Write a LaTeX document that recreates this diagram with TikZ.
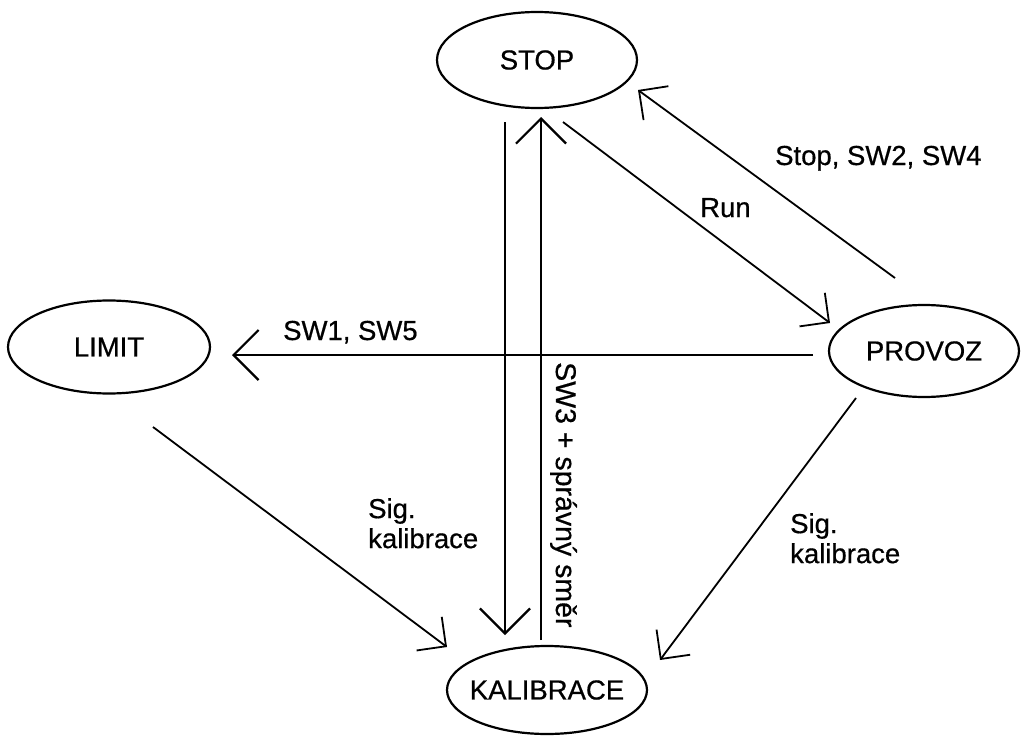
\documentclass[tikz,border=0pt]{standalone}
\usepackage{fontspec}
\setmainfont{Liberation Sans}[FakeBold=0.6]
\usetikzlibrary{shapes.geometric,arrows.meta,calc}
\newcommand\lblfont{\fontsize{27.5}{30}\selectfont}
\begin{document}
\begin{tikzpicture}[x=1pt,y=-1pt,
  state/.style n args={2}{ellipse,draw,line width=2.2pt,inner sep=0pt,
    minimum width=#1,minimum height=#2,font=\lblfont},
  lab/.style={inner sep=0pt,font=\lblfont},
  arr/.style={line width=2.2pt,-{Straight Barb[length=25pt,width=50pt]}},
  darr/.style={line width=1.8pt,-{Straight Barb[length=21pt,width=42pt]}}]
\useasboundingbox (0,0) rectangle (1021,736);
\fill[white] (0,0) rectangle (1021,736);
% states
\node[state={200pt}{96pt}] (stop) at (537,60) {\makebox[0pt]{STOP}};
\node[state={202pt}{93pt}] (limit) at (109,347) {\makebox[0pt]{LIMIT}};
\node[state={190pt}{92pt}] (provoz) at (924,351) {\makebox[0pt]{PROVOZ}};
\node[state={200pt}{88pt}] (kal) at (547,690) {\makebox[0pt]{KALIBRACE}};
% connectors
\draw[arr] ($(stop)+(-32,62)$) -- ($(kal)+(-42,-55)$);
\draw[arr] ($(kal)+(-6,-50)$) -- ($(stop)+(4,57)$);
\draw[darr] ($(stop)+(26,62)$) -- ($(provoz)+(-94,-28)$);
\draw[darr] ($(provoz)+(-29,-73)$) -- ($(stop)+(101,30)$);
\draw[arr] ($(provoz)+(-111,4)$) -- ($(limit)+(123,8)$);
\draw[darr] ($(limit)+(44,80)$) -- ($(kal)+(-100,-43)$);
\draw[darr] ($(provoz)+(-68,47)$) -- ($(kal)+(113,-30)$);
% labels
\node[lab,anchor=base west] (lstop) at (775,165) {Stop, SW2, SW4};
\node[lab,anchor=base west] (lrun) at (700,217) {Run};
\node[lab,anchor=base west] (lsw) at (283,340) {SW1, SW5};
\node[lab,anchor=north west,align=left] (lsigl) at (368,498) {Sig.\\kalibrace};
\node[lab,anchor=north west,align=left] (lsigr) at (790,513) {Sig.\\kalibrace};
\node[lab,rotate=-90,anchor=base west,font=\fontsize{28.5}{31}\selectfont] (lsw3) at (556,362) {SW3 + správný směr};
\end{tikzpicture}
\end{document}
